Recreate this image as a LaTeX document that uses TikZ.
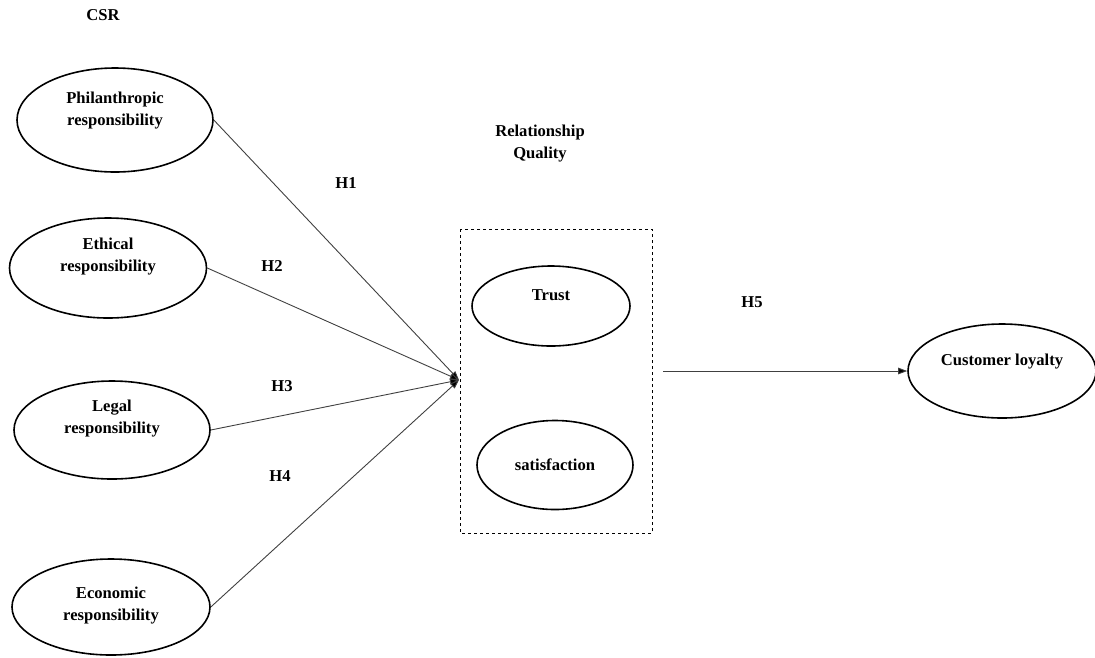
\documentclass[tikz,border=0pt]{standalone}
\usepackage{fontspec}
\setmainfont{Liberation Serif}
\usetikzlibrary{shapes.geometric,arrows.meta}
\begin{document}
\begin{tikzpicture}[x=1pt,y=-1pt,
  ell/.style={draw=black,line width=1.6pt,ellipse,inner sep=0pt},
  lbl/.style={font=\bfseries\fontsize{16.6}{22}\selectfont,align=center,inner sep=0pt},
  conn/.style={draw=black!75,line width=0.9pt,-{Triangle[length=9pt,width=6.5pt,fill=black]}}]
\useasboundingbox (0,0) rectangle (1095,657);
% CSR ellipses
\node[ell,minimum width=196,minimum height=104] (phil) at (115,120) {};
\node[lbl] (philt) at (115,111) {Philanthropic\\responsibility};
\node[ell,minimum width=197,minimum height=100] (eth) at (108,268) {};
\node[lbl] (etht) at (108,257) {Ethical\\responsibility};
\node[ell,minimum width=196,minimum height=98] (leg) at (112,430) {};
\node[lbl] (legt) at (112,419) {Legal\\responsibility};
\node[ell,minimum width=198,minimum height=96] (eco) at (111,607) {};
\node[lbl] (ecot) at (111,606) {Economic\\responsibility};
\node[lbl] (csr) at (103,15) {CSR};
% relationship quality
\node[lbl] (rq) at (540,144) {Relationship\\Quality};
\draw[dashed,line width=0.8pt] (460,229) rectangle (652,533);
\node[ell,minimum width=158,minimum height=80] (trust) at (551,306) {};
\node[lbl] (trustt) at (551,295) {Trust};
\node[ell,minimum width=156,minimum height=89] (sat) at (555,465) {};
\node[lbl] (satt) at (555,465) {satisfaction};
\coordinate (conv) at (459,380);
\coordinate (h5s) at (663,371);
% customer loyalty
\node[ell,minimum width=188,minimum height=94] (loy) at (1002,371) {};
\node[lbl] (loyt) at (1002,362) {Customer loyalty};
% connectors
\draw[conn] (phil.east) -- (conv);
\draw[conn] (eth.east) -- (conv);
\draw[conn] (leg.east) -- (conv);
\draw[conn] (eco.east) -- (conv);
\draw[conn] (h5s) -- (loy.west);
% hypothesis labels
\node[lbl] (h1) at (346,183) {H1};
\node[lbl] (h2) at (272,266) {H2};
\node[lbl] (h3) at (282,386) {H3};
\node[lbl] (h4) at (280,476) {H4};
\node[lbl] (h5) at (752,302) {H5};
\end{tikzpicture}
\end{document}
